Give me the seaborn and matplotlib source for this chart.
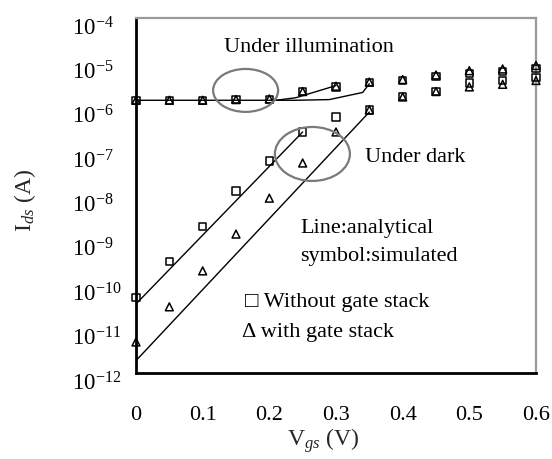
import matplotlib
matplotlib.use("Agg")
import matplotlib.pyplot as plt
import matplotlib.transforms as mtransforms
from matplotlib.patches import Ellipse
from matplotlib.ticker import MultipleLocator, LogLocator, FixedLocator, NullFormatter
import pandas as pd
import seaborn as sns

# Gate voltage sweep (V)
vgs = [0.0, 0.05, 0.10, 0.15, 0.20, 0.25, 0.30, 0.35, 0.40, 0.45, 0.50, 0.55, 0.60]

# Simulated drain current (A)
dark_plain = [5.1e-11, 3.3e-10, 2.0e-9, 1.26e-8, 6.0e-8, 2.7e-7, 5.9e-7, 8.5e-7,
              1.7e-6, 2.2e-6, 3.4e-6, 3.9e-6, 4.5e-6]
dark_stack = [5.0e-12, 3.1e-11, 2.0e-10, 1.35e-9, 8.7e-9, 5.4e-8, 2.7e-7, 8.5e-7,
              1.66e-6, 2.2e-6, 2.8e-6, 3.2e-6, 3.9e-6]
light_plain = [1.4e-6, 1.4e-6, 1.4e-6, 1.45e-6, 1.45e-6, 2.2e-6, 2.8e-6, 3.5e-6,
               3.9e-6, 4.8e-6, 5.6e-6, 6.2e-6, 7.2e-6]
light_stack = [1.4e-6, 1.4e-6, 1.4e-6, 1.45e-6, 1.5e-6, 2.2e-6, 2.9e-6, 3.6e-6,
               4.1e-6, 5.2e-6, 6.5e-6, 7.1e-6, 8.5e-6]

# Analytical model curves
dark_plain_line_v = [0.0, 0.25]
dark_plain_line_i = [3.6e-11, 2.7e-7]
dark_stack_line_v = [0.0, 0.35]
dark_stack_line_i = [1.9e-12, 7.6e-7]
light_line_v = [0.0, 0.24, 0.29, 0.34, 0.35]
light_line_i = [1.4e-6, 1.4e-6, 1.45e-6, 2.1e-6, 3.3e-6]
light_branch_v = [0.21, 0.24, 0.30]
light_branch_i = [1.4e-6, 1.6e-6, 3.0e-6]

# Axis tick labels
ytick_vals = [1e-12, 1e-11, 1e-10, 1e-9, 1e-8, 1e-7, 1e-6, 1e-5, 1e-4]
ytick_labels = [r"$10^{-12}$", r"$10^{-11}$", r"$10^{-10}$", r"$10^{-9}$", r"$10^{-8}$",
                r"$10^{-7}$", r"$10^{-6}$", r"$10^{-5}$", r"$10^{-4}$"]
xtick_vals = [0.0, 0.1, 0.2, 0.3, 0.4, 0.5, 0.6]
xtick_labels = ["0", "0.1", "0.2", "0.3", "0.4", "0.5", "0.6"]

sns.set_theme(style="white")
plt.rcParams["font.family"] = ["Liberation Serif", "DejaVu Sans"]
plt.rcParams["mathtext.fontset"] = "custom"
plt.rcParams["mathtext.rm"] = "Liberation Serif"
plt.rcParams["mathtext.it"] = "Liberation Serif:italic"
plt.rcParams["mathtext.bf"] = "Liberation Serif:bold"

fig = plt.figure(figsize=(5.52, 4.60), dpi=100)
ax = fig.add_axes([136 / 552, 1 - 374 / 460, 400 / 552, 355 / 460])
ax.set_yscale("log")

pts = pd.DataFrame({"vgs": vgs, "dark_plain": dark_plain, "dark_stack": dark_stack,
                    "light_plain": light_plain, "light_stack": light_stack})

line_kw = dict(color="black", linewidth=1.0, sort=False, estimator=None, ax=ax)
sns.lineplot(x=dark_plain_line_v, y=dark_plain_line_i, **line_kw)
sns.lineplot(x=dark_stack_line_v, y=dark_stack_line_i, **line_kw)
sns.lineplot(x=light_line_v, y=light_line_i, **line_kw)
sns.lineplot(x=light_branch_v, y=light_branch_i, **line_kw)

sq_kw = dict(marker="s", s=28, facecolor="none", edgecolor="black", linewidth=1.1,
             clip_on=False, zorder=3, ax=ax)
tri_kw = dict(marker="^", s=32, facecolor="none", edgecolor="black", linewidth=1.1,
              clip_on=False, zorder=3, ax=ax)
sns.scatterplot(data=pts, x="vgs", y="dark_plain", **sq_kw)
sns.scatterplot(data=pts, x="vgs", y="light_plain", **sq_kw)
sns.scatterplot(data=pts, x="vgs", y="dark_stack", **tri_kw)
sns.scatterplot(data=pts, x="vgs", y="light_stack", **tri_kw)

ax.set_xlim(0, 0.6)
ax.set_ylim(1e-12, 1e-4)

ax.xaxis.set_major_locator(FixedLocator(xtick_vals))
ax.set_xticklabels(xtick_labels)
ax.xaxis.set_minor_locator(MultipleLocator(0.02))
ax.yaxis.set_major_locator(FixedLocator(ytick_vals))
ax.set_yticklabels(ytick_labels)
ax.yaxis.set_minor_locator(LogLocator(base=10, subs=range(2, 10), numticks=100))
ax.yaxis.set_minor_formatter(NullFormatter())

ax.tick_params(axis="both", which="both", direction="in", colors="black")
ax.tick_params(axis="y", which="major", length=6.5, width=1.4, labelsize=16.5, pad=46)
ax.tick_params(axis="y", which="minor", length=3.8, width=1.0)
ax.tick_params(axis="x", which="major", length=4.5, width=1.2, labelsize=16, pad=23)
ax.tick_params(axis="x", which="minor", length=3.2, width=1.0)
shift_down = mtransforms.ScaledTranslation(0, -5 / 72, fig.dpi_scale_trans)
for lbl in ax.get_yticklabels():
    lbl.set_horizontalalignment("left")
    lbl.set_transform(lbl.get_transform() + shift_down)

for side in ("left", "bottom"):
    ax.spines[side].set_color("black")
    ax.spines[side].set_linewidth(2.0)
for side in ("top", "right"):
    ax.spines[side].set_color("#9a9a9a")
    ax.spines[side].set_linewidth(1.6)

ax.set_xlabel(r"V$_{gs}$ (V)", fontsize=17)
ax.set_ylabel(r"I$_{ds}$ (A)", fontsize=17)
ax.xaxis.set_label_coords(0.4675, -0.148)
ax.yaxis.set_label_coords(-0.245, 0.49)

# Region highlights
ax.add_patch(Ellipse((0.274, 0.796), 0.1625, 0.121, transform=ax.transAxes,
                     fill=False, edgecolor="#7a7a7a", linewidth=1.6, zorder=4))
ax.add_patch(Ellipse((0.441, 0.617), 0.1875, 0.152, transform=ax.transAxes,
                     fill=False, edgecolor="#7a7a7a", linewidth=1.6, zorder=4))

txt_kw = dict(transform=ax.transAxes, fontsize=16, ha="left", va="center", color="black")
ax.text(0.22, 0.921, "Under illumination", **txt_kw)
ax.text(0.5725, 0.611, "Under dark", **txt_kw)
ax.text(0.41, 0.411, "Line:analytical", **txt_kw)
ax.text(0.41, 0.330, "symbol:simulated", **txt_kw)
ax.text(0.2725, 0.200, "\u25a1 Without gate stack", **txt_kw)
ax.text(0.265, 0.118, "\u0394 with gate stack", **txt_kw)

fig.savefig("out.png", dpi=100)
